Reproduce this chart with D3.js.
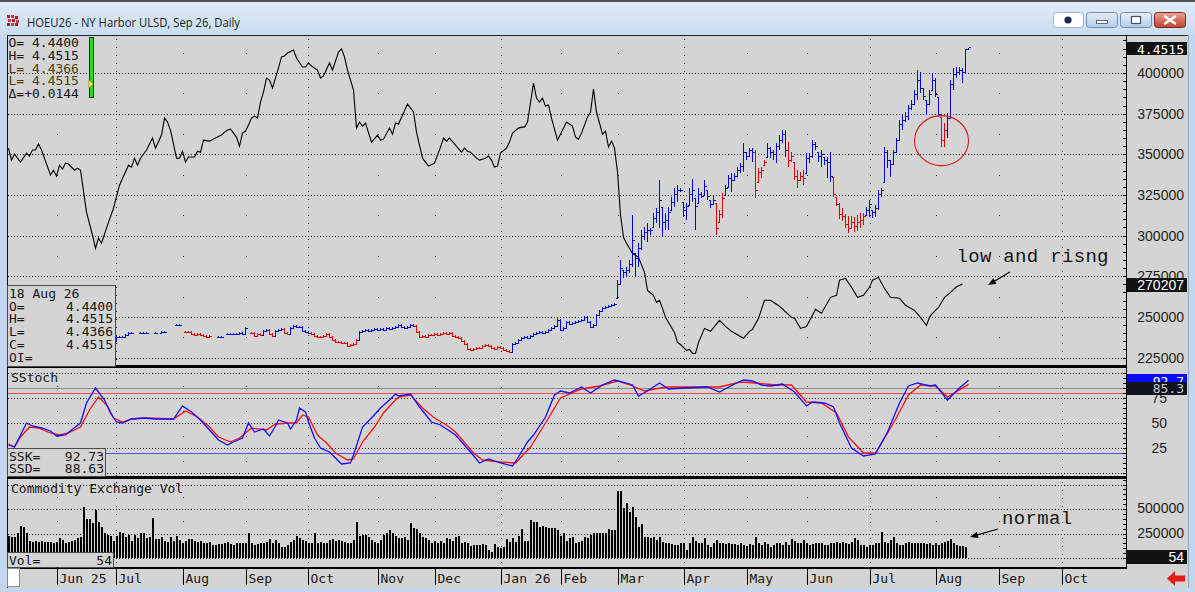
<!DOCTYPE html>
<html>
<head>
<meta charset="utf-8">
<title>HOEU26 - NY Harbor ULSD, Sep 26, Daily</title>
<script src="https://cdn.jsdelivr.net/npm/d3@7"></script>
<style>
  html, body { margin: 0; padding: 0; background: #c3d7ee; }
  svg { display: block; }
  .mono { font-family: 'DejaVu Sans Mono', monospace; font-size: 13px; fill: #161616; }
  .ax { font-family: 'Liberation Sans', Arial, sans-serif; font-size: 14px; fill: #1e1e1e; }
  .note { font-family: 'Liberation Mono', 'DejaVu Sans Mono', monospace; font-size: 19px; fill: #141414; }
</style>
</head>
<body>
<svg id="chart" width="1195" height="592"></svg>
<script>
// ---- data ----------------------------------------------------------------
// trading sessions (weekdays without exchange holidays)
var firstSession = '2025-05-08';
var lastSession = '2026-10-30';
var holidays = ['2025-05-26', '2025-06-19', '2025-07-04', '2025-09-01', '2025-11-27', '2025-12-25',
  '2026-01-01', '2026-01-19', '2026-02-16', '2026-04-03', '2026-05-25', '2026-06-19', '2026-07-03', '2026-09-07'];

// open interest, [session, contracts]
var openInterest = [[0,353800],[1,346400],[2,350100],[4,345200],[6,350700],[7,348900],[8,352600],[9,352600],[10,356300],
  [11,352600],[14,337200],[15,340200],[16,336500],[17,343300],[18,340900],[19,344600],[20,344000],[22,340200],[23,341500],
  [24,340200],[26,314400],[28,300200],[29,292200],[30,298400],[31,295300],[33,306400],[35,316800],[37,331000],[40,343300],
  [41,342100],[42,347600],[43,343300],[44,347600],[46,352600],[48,360000],[49,353800],[51,361800],[52,372300],[53,369800],
  [54,364900],[56,347600],[57,347600],[58,351900],[59,345200],[60,348300],[62,348300],[63,351900],[64,351300],[65,358700],
  [67,358100],[69,360000],[71,361800],[72,363600],[73,364900],[74,365500],[76,360600],[77,355000],[78,363000],[79,364300],
  [80,368000],[81,372300],[82,373500],[83,372300],[84,382100],[85,388300],[86,396900],[87,395700],[88,390800],[90,403100],
  [91,409900],[92,410500],[93,412300],[95,414200],[96,409200],[98,403700],[99,403700],[100,406200],[101,404300],[103,401800],
  [104,396900],[105,398200],[107,406200],[108,401800],[110,412900],[111,414800],[112,409900],[113,401800],[115,389500],
  [116,366100],[117,369800],[118,367300],[119,369200],[121,357500],[123,361800],[124,358700],[125,359300],[127,366100],
  [128,362400],[129,369200],[130,368600],[133,380900],[135,376000],[136,363600],[138,347600],[140,342700],[142,344600],
  [144,354400],[145,360000],[146,358100],[147,360000],[149,355600],[151,351300],[152,353800],[153,351900],[154,351300],
  [156,347600],[157,346400],[159,347600],[160,348900],[161,346400],[162,342100],[163,342700],[164,350700],[166,353800],
  [167,357500],[168,363000],[170,366100],[171,366700],[172,366700],[173,369800],[175,393800],[176,384600],[177,382100],
  [178,384600],[179,379700],[180,380300],[181,372300],[183,358700],[186,369800],[188,367300],[189,360600],[190,359300],
  [191,363000],[193,372900],[194,376000],[195,390100],[196,376000],[198,362400],[199,364300],[200,354400],[201,358100],
  [202,353800],[203,339000],[204,312800],[205,298900],[206,295300],[207,292200],[208,289100],[210,286600],[212,277400],
  [213,266300],[215,263200],[216,258900],[217,260200],[218,255200],[219,249700],[221,243500],[222,240400],[223,234300],
  [224,233000],[226,229400],[227,230000],[228,227500],[229,227500],[230,234300],[232,242900],[234,241100],[237,247800],
  [239,244100],[241,241100],[245,236800],[247,241100],[248,242300],[250,249100],[252,260200],[254,260200],[257,256500],
  [261,249700],[262,249100],[264,242900],[266,244100],[269,254600],[271,252200],[274,262000],[276,263200],[277,272500],
  [279,273700],[281,268200],[283,262000],[285,263200],[287,268200],[288,272500],[290,274300],[292,267500],[294,262000],
  [297,261400],[299,257100],[302,254000],[304,249700],[306,244700],[307,249700],[308,252200],[310,255800],[312,262000],
  [314,265100],[316,268500],[318,270207]];

// price bars from session barStart on, [open, high, low, close]; null = no trade
var barStart = 35;
var ohlc = [
  [2.2525,2.26,2.245,2.2525],[2.2525,2.29,2.245,2.2825],[2.2825,2.29,2.275,2.2825],[2.2825,2.29,2.275,2.2825],
  [2.2825,2.305,2.275,2.2975],[2.2975,2.32,2.29,2.3125],[2.3125,2.32,2.305,2.3125],null,null,
  [2.3125,2.32,2.305,2.3125],[2.3125,2.32,2.305,2.3125],[2.3125,2.32,2.305,2.3125],null,null,
  [2.3125,2.32,2.305,2.3125],null,[2.3125,2.3275,2.305,2.32],[2.32,2.3275,2.3125,2.32],null,null,null,
  [2.3725,2.38,2.365,2.3725],[2.3725,2.38,2.365,2.3725],null,
  [2.32,2.3275,2.3125,2.32],[2.32,2.3275,2.3125,2.32],[2.32,2.3275,2.2975,2.305],[2.305,2.3125,2.29,2.2975],
  [2.2975,2.3125,2.29,2.305],[2.305,2.3125,2.29,2.2975],[2.2975,2.305,2.2825,2.29],[2.29,2.2975,2.275,2.2825],
  [2.2825,2.2975,2.275,2.29],null,null,
  [2.2825,2.29,2.275,2.2825],[2.2825,2.29,2.275,2.2825],null,
  [2.305,2.3125,2.2975,2.305],[2.305,2.3125,2.2975,2.305],[2.305,2.3125,2.2975,2.305],[2.305,2.3125,2.2975,2.305],
  [2.305,2.32,2.2975,2.3125],[2.3125,2.32,2.2975,2.305],[2.305,2.3575,2.2975,2.35],null,
  [2.3125,2.32,2.305,2.3125],[2.3125,2.32,2.2825,2.29],[2.29,2.3125,2.2825,2.305],[2.305,2.3125,2.29,2.2975],
  [2.2975,2.335,2.29,2.3275],[2.3275,2.3425,2.32,2.335],[2.335,2.3425,2.2975,2.305],[2.305,2.3125,2.2825,2.29],
  [2.29,2.335,2.2825,2.3275],[2.3275,2.3425,2.32,2.335],[2.335,2.35,2.3275,2.3425],[2.3425,2.35,2.305,2.3125],
  [2.3125,2.32,2.2975,2.305],[2.305,2.3575,2.2975,2.35],[2.35,2.3725,2.3425,2.365],[2.365,2.3725,2.35,2.3575],
  [2.3575,2.365,2.35,2.3575],[2.3575,2.365,2.32,2.3275],[2.3275,2.335,2.3125,2.32],[2.32,2.3275,2.305,2.3125],
  [2.3125,2.32,2.2975,2.305],[2.305,2.3125,2.2825,2.29],[2.29,2.2975,2.275,2.2825],[2.2825,2.29,2.275,2.2825],
  [2.2825,2.2975,2.275,2.29],[2.29,2.3125,2.2825,2.305],[2.305,2.3125,2.275,2.2825],[2.2825,2.29,2.2525,2.26],
  [2.26,2.2675,2.2375,2.245],[2.245,2.2525,2.2375,2.245],[2.245,2.2525,2.23,2.2375],[2.2375,2.245,2.23,2.2375],
  [2.2375,2.245,2.2075,2.215],[2.215,2.23,2.2075,2.2225],[2.2225,2.2375,2.215,2.23],[2.23,2.2675,2.2225,2.26],
  [2.26,2.3275,2.2525,2.32],[2.32,2.335,2.3125,2.3275],[2.3275,2.3425,2.32,2.335],[2.335,2.3425,2.32,2.3275],
  [2.3275,2.3425,2.32,2.335],[2.335,2.35,2.3275,2.3425],[2.3425,2.35,2.3275,2.335],[2.335,2.35,2.3275,2.3425],
  [2.3425,2.35,2.3275,2.335],[2.335,2.3575,2.3275,2.35],[2.35,2.3575,2.335,2.3425],[2.3425,2.3575,2.335,2.35],
  [2.35,2.365,2.3425,2.3575],[2.3575,2.38,2.35,2.3725],[2.3725,2.38,2.35,2.3575],[2.3575,2.365,2.3425,2.35],
  [2.35,2.365,2.3425,2.3575],[2.3575,2.38,2.35,2.3725],[2.3725,2.38,2.3575,2.365],[2.365,2.3725,2.3125,2.32],
  [2.32,2.3275,2.275,2.2825],[2.2825,2.2975,2.275,2.29],[2.29,2.2975,2.275,2.2825],[2.2825,2.305,2.275,2.2975],
  [2.2975,2.305,2.29,2.2975],[2.2975,2.3125,2.29,2.305],[2.305,2.3125,2.29,2.2975],[2.2975,2.3125,2.29,2.305],
  [2.305,2.32,2.2975,2.3125],[2.3125,2.32,2.2975,2.305],[2.305,2.32,2.2975,2.3125],[2.3125,2.32,2.2825,2.29],
  [2.29,2.2975,2.275,2.2825],[2.2825,2.29,2.2675,2.275],[2.275,2.2825,2.245,2.2525],[2.2525,2.26,2.2225,2.23],
  [2.23,2.2375,2.185,2.1925],[2.1925,2.2,2.1775,2.185],[2.185,2.2,2.1775,2.1925],[2.1925,2.2075,2.185,2.2],
  [2.2,2.2075,2.1925,2.2],[2.2,2.2225,2.1925,2.215],[2.215,2.23,2.2075,2.2225],[2.2225,2.23,2.2075,2.215],
  [2.215,2.2225,2.1925,2.2],[2.2,2.2075,2.185,2.1925],[2.1925,2.215,2.185,2.2075],[2.2075,2.215,2.1925,2.2],
  [2.2,2.2075,2.1775,2.185],[2.185,2.1925,2.17,2.1775],[2.1775,2.185,2.1625,2.17],[2.17,2.2375,2.1625,2.23],
  [2.23,2.245,2.2225,2.2375],[2.2375,2.2675,2.23,2.26],[2.26,2.2825,2.2525,2.275],[2.275,2.29,2.2675,2.2825],
  [2.2825,2.29,2.2675,2.275],[2.275,2.2975,2.2675,2.29],[2.29,2.3125,2.2825,2.305],[2.305,2.32,2.2975,2.3125],
  [2.3125,2.3275,2.305,2.32],[2.32,2.3275,2.305,2.3125],[2.3125,2.3275,2.305,2.32],[2.32,2.3425,2.3125,2.335],
  [2.335,2.3575,2.3275,2.35],[2.35,2.3725,2.3425,2.365],[2.365,2.425,2.3575,2.41],[2.41,2.4175,2.3275,2.335],
  [2.335,2.3575,2.3275,2.35],[2.35,2.4025,2.3425,2.395],[2.395,2.4025,2.3725,2.38],[2.38,2.395,2.3725,2.3875],
  [2.3875,2.4025,2.38,2.395],[2.395,2.41,2.3875,2.4025],[2.4025,2.4175,2.395,2.41],[2.41,2.44,2.4025,2.4325],
  [2.4325,2.44,2.3875,2.395],[2.395,2.4025,2.35,2.3575],[2.3575,2.38,2.35,2.3725],[2.3725,2.455,2.365,2.4475],
  [2.4475,2.485,2.44,2.4775],[2.4775,2.5075,2.47,2.5],[2.5,2.515,2.4925,2.5075],[2.5075,2.5225,2.5,2.515],
  [2.515,2.53,2.5075,2.5225],[2.5225,2.5375,2.515,2.53],
  [2.575,2.71,2.575,2.68],[2.68,2.86,2.6725,2.8],[2.785,2.785,2.725,2.77],[2.77,2.8075,2.7325,2.785],
  [2.785,2.86,2.7625,2.83],[2.83,3.1975,2.8075,3.01],[2.9125,2.9125,2.7325,2.875],[2.875,2.9875,2.8075,2.95],
  [2.95,3.085,2.935,3.04],[3.04,3.1075,3.01,3.07],[3.07,3.1375,2.995,3.085],[3.085,3.1,3.0475,3.085],
  [3.1075,3.2125,3.1075,3.175],[3.175,3.25,3.1375,3.22],[3.22,3.46,3.1,3.31],[3.2575,3.2575,3.0325,3.145],
  [3.145,3.2125,3.085,3.16],[3.16,3.2575,3.085,3.22],[3.235,3.3325,3.235,3.295],[3.295,3.4,3.2575,3.355],
  [3.355,3.4225,3.295,3.385],[3.385,3.4,3.37,3.385],[3.295,3.295,3.1825,3.235],[3.235,3.2875,3.16,3.265],
  [3.2725,3.4,3.2725,3.355],[3.355,3.4675,3.295,3.385],[3.325,3.325,3.085,3.265],[3.2875,3.4,3.2875,3.355],
  [3.355,3.37,3.325,3.34],[3.3475,3.46,3.3475,3.415],[3.385,3.385,3.31,3.34],[3.31,3.31,3.25,3.28],
  [3.28,3.3475,3.2725,3.31],[3.2875,3.2875,3.0475,3.1],[3.145,3.235,3.145,3.205],[3.205,3.3625,3.175,3.325],
  [3.3475,3.4225,3.3475,3.4],[3.4075,3.4975,3.4075,3.475],[3.475,3.5125,3.37,3.46],[3.46,3.5125,3.46,3.49],
  [3.49,3.5575,3.4825,3.535],[3.535,3.5875,3.5125,3.565],[3.565,3.7375,3.52,3.67],[3.67,3.67,3.61,3.64],
  [3.64,3.7,3.6325,3.685],[3.685,3.7,3.595,3.67],[3.67,3.685,3.325,3.385],[3.445,3.55,3.445,3.52],
  [3.52,3.5575,3.475,3.535],[3.5725,3.61,3.5725,3.595],[3.6325,3.7375,3.6325,3.7],[3.7,3.7075,3.625,3.67],
  [3.67,3.685,3.61,3.655],[3.655,3.7375,3.5875,3.715],[3.715,3.7975,3.685,3.76],[3.76,3.835,3.7375,3.805],
  [3.805,3.835,3.6325,3.685],[3.685,3.745,3.5575,3.61],[3.61,3.67,3.595,3.64],[3.595,3.595,3.46,3.49],
  [3.49,3.535,3.4,3.46],[3.46,3.52,3.46,3.49],[3.49,3.535,3.4225,3.475],[3.5125,3.6625,3.5125,3.625],
  [3.625,3.6625,3.5875,3.64],[3.64,3.76,3.625,3.73],[3.73,3.745,3.685,3.715],[3.67,3.67,3.595,3.64],
  [3.64,3.685,3.5575,3.655],[3.6325,3.6325,3.5725,3.61],[3.61,3.6325,3.475,3.595],[3.595,3.67,3.445,3.49],
  [3.4825,3.4825,3.3325,3.355],[3.3325,3.3325,3.265,3.28],[3.28,3.2875,3.1675,3.205],[3.205,3.25,3.1525,3.19],
  [3.19,3.205,3.1,3.13],[3.13,3.19,3.0625,3.1],[3.1,3.19,3.0925,3.145],[3.145,3.1825,3.07,3.115],
  [3.115,3.1975,3.0775,3.145],[3.145,3.2125,3.1,3.16],[3.16,3.2125,3.1225,3.19],[3.1975,3.2575,3.1975,3.235],
  [3.235,3.31,3.1825,3.28],[3.235,3.235,3.175,3.22],[3.22,3.2725,3.1825,3.25],[3.25,3.385,3.235,3.355],
  [3.355,3.4,3.3325,3.385],[3.445,3.7075,3.445,3.67],[3.67,3.685,3.55,3.61],[3.61,3.61,3.4825,3.58],
  [3.58,3.685,3.5725,3.67],[3.67,3.775,3.67,3.76],[3.76,3.91,3.76,3.88],[3.88,3.9475,3.835,3.91],
  [3.91,3.97,3.895,3.94],[3.94,4.0225,3.91,4.0],[4.0,4.06,3.985,4.03],[4.03,4.135,4.0225,4.105],
  [4.105,4.285,4.06,4.21],[4.21,4.27,4.1125,4.15],[4.15,4.15,4.06,4.09],[4.06,4.06,3.9475,4.03],
  [4.03,4.135,4.0225,4.105],[4.135,4.2625,4.135,4.21],[4.21,4.225,4.0825,4.105],[4.0825,4.0825,3.9325,3.955],
  [3.9325,3.9325,3.7075,3.76],[3.76,3.8875,3.7075,3.835],[3.835,3.9625,3.775,3.925],[3.925,4.21,3.925,4.18],
  [4.18,4.3,4.135,4.255],[4.255,4.3075,4.225,4.27],[4.27,4.3075,4.2475,4.285],[4.285,4.3,4.1875,4.27],
  [4.27,4.44,4.2625,4.4371],[4.44,4.4515,4.4366,4.4515]
];

// bar colouring runs, [from session, to session, trend]
var trendRuns = [[35,35,'dn'],[36,57,'up'],[59,67,'dn'],[70,79,'up'],[81,84,'dn'],[85,86,'up'],[87,88,'dn'],
  [89,91,'up'],[92,93,'dn'],[94,100,'up'],[101,116,'dn'],[117,135,'up'],[136,167,'dn'],[168,235,'up'],
  [236,238,'dn'],[239,248,'up'],[249,252,'dn'],[253,259,'up'],[260,265,'dn'],[266,274,'up'],[275,285,'dn'],
  [286,310,'up'],[311,312,'dn'],[313,320,'up']];

// slow stochastic, [session, value]
var ssk = [[0,28],[2,26],[4,38],[6,50],[8,47],[11,45],[14,42],[16,37],[19,38],[21,43],[24,50],[26,70],[29,85],
  [32,73],[34,60],[36,51],[38,50],[41,54],[45,55],[49,54],[55,54],[58,67],[61,61],[64,53],[67,43],[70,33],[73,28],
  [75,31],[78,35],[80,50],[82,41],[85,44],[87,37],[89,47],[90,53],[93,50],[94,44],[96,53],[97,65],[99,61],[100,51],
  [102,35],[104,25],[107,21],[109,15],[111,9],[114,10],[115,18],[118,46],[121,55],[124,65],[127,73],[129,79],[130,77],
  [134,79],[137,66],[141,51],[144,48],[149,38],[154,21],[157,10],[160,14],[164,10],[168,7],[170,16],[173,31],[175,38],
  [179,56],[182,78],[184,82],[187,80],[191,86],[194,80],[198,88],[202,93],[206,90],[208,88],[210,77],[213,82],[217,90],
  [220,84],[225,85],[233,86],[237,81],[242,89],[245,93],[248,92],[251,88],[254,87],[258,89],[262,81],[266,67],[268,71],
  [272,70],[275,66],[277,50],[281,25],[285,17],[289,19],[293,41],[297,70],[300,87],[303,90],[307,87],[309,88],[313,73],
  [317,85],[320,92.73]];
var ssd = [[0,29],[2,26],[4,36],[7,46],[10,45],[14,40],[17,38],[20,40],[24,46],[27,63],[30,76],[33,67],[35,55],
  [38,51],[41,54],[46,55],[55,54],[59,62],[63,56],[67,46],[70,36],[74,31],[77,35],[81,45],[86,43],[89,49],[94,50],
  [96,50],[98,58],[100,56],[103,38],[106,30],[109,20],[113,13],[115,14],[118,31],[122,46],[125,60],[128,70],[130,76],
  [134,78],[138,65],[142,55],[146,48],[149,41],[155,20],[158,13],[164,11],[169,10],[174,26],[179,50],[184,75],[191,84],
  [197,87],[203,92],[208,87],[212,82],[219,86],[228,86],[237,86],[244,91],[249,90],[256,88],[261,88],[266,71],[271,70],
  [276,60],[280,36],[285,20],[289,20],[295,50],[300,78],[304,88],[309,87],[313,76],[320,88.63]];
var stochLevels = { over: 80, under: 20, marker: 85.3 };

// exchange volume per session from session 0
var volume = [
  224000,217000,217000,252000,326000,319000,252000,176000,166000,176000,
  166000,176000,166000,166000,166000,156000,166000,201000,184000,150000,
  166000,176000,184000,201000,217000,517000,395000,395000,354000,490000,
  370000,319000,252000,235000,224000,176000,224000,268000,252000,217000,
  235000,176000,235000,201000,252000,252000,201000,217000,411000,191000,
  191000,217000,176000,166000,217000,176000,224000,184000,156000,176000,
  191000,191000,176000,166000,176000,156000,150000,166000,133000,133000,
  143000,143000,156000,166000,143000,133000,150000,150000,150000,150000,
  258000,150000,133000,143000,150000,156000,166000,191000,156000,184000,
  150000,115000,115000,133000,166000,184000,224000,201000,184000,176000,
  150000,156000,252000,156000,166000,156000,150000,184000,191000,176000,
  184000,176000,166000,150000,150000,184000,370000,224000,235000,235000,
  217000,184000,166000,150000,184000,235000,258000,286000,252000,224000,
  201000,201000,217000,184000,354000,303000,293000,258000,211000,201000,
  184000,150000,176000,156000,176000,150000,201000,191000,176000,217000,
  224000,150000,166000,156000,122000,133000,133000,133000,143000,133000,
  82000,64000,143000,115000,99000,115000,191000,166000,201000,166000,
  224000,293000,176000,176000,388000,370000,370000,313000,326000,313000,
  303000,303000,303000,286000,224000,258000,176000,201000,211000,156000,
  166000,176000,217000,201000,235000,252000,258000,258000,258000,258000,
  293000,286000,286000,686000,686000,507000,558000,472000,523000,421000,
  319000,347000,211000,211000,201000,211000,184000,217000,166000,150000,
  150000,143000,133000,133000,150000,150000,82000,150000,217000,176000,
  150000,156000,201000,133000,115000,150000,184000,156000,150000,143000,
  150000,143000,143000,133000,150000,133000,122000,143000,133000,217000,
  150000,133000,166000,143000,115000,133000,150000,150000,133000,166000,
  133000,191000,176000,156000,150000,184000,150000,133000,143000,156000,
  150000,150000,133000,133000,156000,150000,166000,156000,166000,150000,
  143000,166000,201000,184000,133000,133000,115000,133000,133000,150000,
  156000,268000,166000,150000,184000,211000,156000,133000,133000,150000,
  166000,150000,156000,150000,150000,156000,143000,150000,133000,150000,
  133000,156000,166000,176000,191000,150000,133000,122000,122000,115000,
  54
];

// axis ticks
var oiTicks = [225000, 250000, 275000, 300000, 325000, 350000, 375000, 400000];
var stochGrid = [0, 25, 50, 75, 100];
var stochTicks = [25, 50, 75];
var volGrid = [0, 250000, 500000, 750000];
var volTicks = [250000, 500000];

// ---- layout --------------------------------------------------------------
var plotL = 7, plotR = 1126, axisR = 1188;
var price = { top: 36, bottom: 365 };
var stoch = { top: 368, bottom: 476 };
var vol = { top: 479, bottom: 566 };
var dateAxis = { top: 567, bottom: 587 };

var parse = d3.utcParse('%Y-%m-%d'), iso = d3.utcFormat('%Y-%m-%d');
var sessions = d3.utcDays(parse(firstSession), d3.utcDay.offset(parse(lastSession), 1))
  .filter(function(d) {
    var w = d.getUTCDay();
    return w !== 0 && w !== 6 && holidays.indexOf(iso(d)) < 0;
  });

var x = d3.scaleLinear().domain([0, sessions.length - 1]).range([8.5, 8.5 + 3 * (sessions.length - 1)]);
var yOI = d3.scaleLinear().domain([225000, 400000]).range([357.5, 73]);
var yPx = d3.scaleLinear().domain([2.185, 4.435]).range([350, 50]);
var yStoch = d3.scaleLinear().domain([0, 100]).range([473, 373]);
var yVol = d3.scaleLinear().domain([0, 500000]).range([558, 509]);

var monthStarts = [];
sessions.forEach(function(d, i) {
  if (i > 0 && d.getUTCMonth() !== sessions[i - 1].getUTCMonth()) {
    monthStarts.push({ s: i, date: d, quarter: d.getUTCMonth() % 3 === 0 });
  }
});

var svg = d3.select('#chart');
var defs = svg.append('defs');

function gradient(id, top, bottom) {
  var g = defs.append('linearGradient').attr('id', id).attr('x1', 0).attr('y1', 0).attr('x2', 0).attr('y2', 1);
  g.append('stop').attr('offset', '0%').attr('stop-color', top);
  g.append('stop').attr('offset', '100%').attr('stop-color', bottom);
}
gradient('titleGrad', '#e3edf9', '#c8dbf0');
gradient('btnGrad', '#e6eef8', '#b4cbe6');
gradient('closeGrad', '#eaa595', '#c4402a');

function clip(id, r) {
  defs.append('clipPath').attr('id', id).append('rect')
    .attr('x', plotL + 1).attr('y', r.top).attr('width', plotR - plotL - 1).attr('height', r.bottom - r.top);
}
clip('clipPrice', price);
clip('clipStoch', stoch);
clip('clipVol', vol);

// ---- window chrome -------------------------------------------------------
svg.append('rect').attr('width', 1195).attr('height', 592).attr('fill', '#c3d7ee');
svg.append('rect').attr('width', 1195).attr('height', 35).attr('fill', 'url(#titleGrad)');
svg.append('rect').attr('width', 1195).attr('height', 2).attr('fill', '#505050');
svg.append('rect').attr('x', 1188).attr('y', 35).attr('width', 1).attr('height', 553).attr('fill', '#8fa9c6');

var icon = svg.append('g').attr('transform', 'translate(7,15)');
[[0,0],[4,0],[8,1],[1,4],[5,4],[9,5],[0,8],[4,8],[8,8]].forEach(function(p, i) {
  icon.append('rect').attr('x', p[0]).attr('y', p[1]).attr('width', 3).attr('height', 3)
    .attr('fill', i % 2 ? '#d23a4a' : '#a8202e');
});
svg.append('text').attr('x', 27).attr('y', 26.5)
  .attr('textLength', 213).attr('lengthAdjust', 'spacingAndGlyphs')
  .style('font-family', "'Open Sans', 'Noto Sans', sans-serif").style('font-size', '13px').style('fill', '#1b1b1b')
  .text('HOEU26 - NY Harbor ULSD, Sep 26, Daily');

var btn = svg.append('g');
btn.append('rect').attr('x', 1053.5).attr('y', 12.5).attr('width', 30).attr('height', 15).attr('rx', 3)
  .attr('fill', '#ffffff').attr('stroke', '#9db4d0');
btn.append('circle').attr('cx', 1068).attr('cy', 20).attr('r', 3.6).attr('fill', '#23244f');
btn.append('rect').attr('x', 1086.5).attr('y', 12.5).attr('width', 31).attr('height', 15).attr('rx', 3)
  .attr('fill', 'url(#btnGrad)').attr('stroke', '#6f8fb5');
btn.append('rect').attr('x', 1096.5).attr('y', 20.5).attr('width', 11).attr('height', 3)
  .attr('fill', '#ffffff').attr('stroke', '#3c4f6b').attr('stroke-width', 0.8);
btn.append('rect').attr('x', 1120.5).attr('y', 12.5).attr('width', 31).attr('height', 15).attr('rx', 3)
  .attr('fill', 'url(#btnGrad)').attr('stroke', '#6f8fb5');
btn.append('rect').attr('x', 1131.5).attr('y', 16.5).attr('width', 9).attr('height', 7)
  .attr('fill', '#ffffff').attr('stroke', '#3c4f6b').attr('stroke-width', 1.2);
btn.append('rect').attr('x', 1154.5).attr('y', 12.5).attr('width', 31).attr('height', 15).attr('rx', 3)
  .attr('fill', 'url(#closeGrad)').attr('stroke', '#7d2b20');
btn.append('path').attr('d', 'M1165,16.5L1175,23.5M1175,16.5L1165,23.5')
  .attr('stroke', '#ffffff').attr('stroke-width', 2.4).attr('stroke-linecap', 'round');

// chart background
svg.append('rect').attr('x', plotL).attr('y', 35).attr('width', axisR - plotL).attr('height', 553).attr('fill', '#d4d4d4');

// ---- grid ----------------------------------------------------------------
var grid = svg.append('g').attr('shape-rendering', 'crispEdges');

function hDots(y) {
  grid.append('line').attr('x1', plotL + 1).attr('x2', plotR).attr('y1', Math.round(y) + 0.5).attr('y2', Math.round(y) + 0.5)
    .attr('stroke', '#000').attr('stroke-dasharray', '1,2');
}
oiTicks.forEach(function(v) { hDots(yOI(v)); });
stochGrid.forEach(function(v) { hDots(yStoch(v)); });
volGrid.forEach(function(v) { if (yVol(v) > vol.top) hDots(yVol(v)); });

monthStarts.filter(function(m) { return m.quarter; }).forEach(function(m) {
  [price, stoch, vol].forEach(function(r) {
    grid.append('line').attr('x1', Math.round(x(m.s)) + 0.5).attr('x2', Math.round(x(m.s)) + 0.5)
      .attr('y1', r.top + 3).attr('y2', r.bottom)
      .attr('stroke', '#000').attr('stroke-dasharray', '1,7');
  });
});

var midDots = [];
oiTicks.forEach(function(v) { midDots.push(yOI(v + 12500)); });
stochGrid.slice(0, -1).forEach(function(v) { midDots.push(yStoch(v + 12.5)); });
volGrid.forEach(function(v) { if (yVol(v + 125000) > vol.top) midDots.push(yVol(v + 125000)); });
monthStarts.filter(function(m) { return !m.quarter; }).forEach(function(m) {
  midDots.forEach(function(y) {
    grid.append('rect').attr('x', Math.round(x(m.s))).attr('y', Math.round(y)).attr('width', 1).attr('height', 1).attr('fill', '#000');
  });
});

// ---- price panel ---------------------------------------------------------
var gPrice = svg.append('g').attr('clip-path', 'url(#clipPrice)');

gPrice.append('path')
  .datum(openInterest)
  .attr('fill', 'none')
  .attr('stroke', '#000')
  .attr('stroke-width', 1.1)
  .attr('d', d3.line().x(function(d) { return x(d[0]); }).y(function(d) { return yOI(d[1]); }));

var bars = ohlc.map(function(d, i) {
  return d && { s: barStart + i, o: d[0], h: d[1], l: d[2], c: d[3] };
}).filter(Boolean);

function trendOf(s) {
  var run = trendRuns.find(function(r) { return s >= r[0] && s <= r[1]; });
  return run ? run[2] : 'up';
}

gPrice.append('g').attr('shape-rendering', 'crispEdges')
  .selectAll('path')
  .data(bars)
  .enter()
  .append('path')
  .attr('fill', 'none')
  .attr('stroke', function(d) { return trendOf(d.s) === 'up' ? '#0000e0' : '#e00000'; })
  .attr('d', function(d) {
    var cx = x(d.s), hi = Math.min(yPx(d.h), yPx(d.l) - 1.5);
    return 'M' + cx + ',' + hi + 'V' + yPx(d.l) +
      'M' + (cx - 1.5) + ',' + yPx(d.o) + 'H' + cx +
      'M' + cx + ',' + yPx(d.c) + 'H' + (cx + 2);
  });

// ---- stochastic panel ----------------------------------------------------
var gStoch = svg.append('g').attr('clip-path', 'url(#clipStoch)');
[[stochLevels.marker, '#8a8a8a'], [stochLevels.over, '#f05050'], [stochLevels.under, '#5050f0']].forEach(function(l) {
  gStoch.append('line').attr('x1', plotL + 1).attr('x2', plotR)
    .attr('y1', Math.round(yStoch(l[0])) + 0.5).attr('y2', Math.round(yStoch(l[0])) + 0.5)
    .attr('stroke', l[1]).attr('shape-rendering', 'crispEdges');
});
var stochLine = d3.line().x(function(d) { return x(d[0]); }).y(function(d) { return yStoch(d[1]); });
gStoch.append('path').datum(ssd).attr('fill', 'none').attr('stroke', '#ff1010').attr('stroke-width', 1.3).attr('d', stochLine);
gStoch.append('path').datum(ssk).attr('fill', 'none').attr('stroke', '#1010ff').attr('stroke-width', 1.3).attr('d', stochLine);

// ---- volume panel --------------------------------------------------------
svg.append('g').attr('clip-path', 'url(#clipVol)').attr('shape-rendering', 'crispEdges')
  .selectAll('rect')
  .data(volume)
  .enter()
  .append('rect')
  .attr('x', function(d, i) { return x(i) - 0.5; })
  .attr('width', 2)
  .attr('y', function(d) { return yVol(d); })
  .attr('height', function(d) { return yVol(0) - yVol(d); })
  .attr('fill', '#000');

// ---- frame, separators, axis line ----------------------------------------
var frame = svg.append('g').attr('shape-rendering', 'crispEdges');
frame.append('rect').attr('x', plotL).attr('y', 35).attr('width', axisR - plotL).attr('height', 1).attr('fill', '#222');
frame.append('rect').attr('x', plotL).attr('y', 35).attr('width', 1).attr('height', 553).attr('fill', '#111');
frame.append('rect').attr('x', plotL).attr('y', 365).attr('width', plotR - plotL).attr('height', 2.5).attr('fill', '#000');
frame.append('rect').attr('x', plotL).attr('y', 476).attr('width', plotR - plotL).attr('height', 2.5).attr('fill', '#000');
frame.append('rect').attr('x', plotL).attr('y', dateAxis.top).attr('width', plotR - plotL + 1).attr('height', 1.5).attr('fill', '#000');
frame.append('rect').attr('x', plotR).attr('y', 35).attr('width', 1).attr('height', dateAxis.top - 35).attr('fill', '#000');

function minorTicks(scale, from, to, step, r) {
  d3.range(from, to + step / 2, step).forEach(function(v) {
    var y = Math.round(scale(v));
    if (y > r.top && y < r.bottom) {
      frame.append('rect').attr('x', plotR - 3).attr('y', y).attr('width', 3).attr('height', 1).attr('fill', '#000');
    }
  });
}
minorTicks(yOI, 200000, 420000, 5000, price);
minorTicks(yStoch, 0, 100, 5, stoch);
minorTicks(yVol, 0, 800000, 50000, vol);

// ---- right axis labels ---------------------------------------------------
var axisG = svg.append('g');
oiTicks.forEach(function(v) {
  axisG.append('text').attr('class', 'ax').attr('x', 1184).attr('y', yOI(v) + 5).attr('text-anchor', 'end').text(v);
});
stochTicks.forEach(function(v) {
  axisG.append('text').attr('class', 'ax').attr('x', 1167).attr('y', yStoch(v) + 5).attr('text-anchor', 'end').text(v);
});
volTicks.forEach(function(v) {
  axisG.append('text').attr('class', 'ax').attr('x', 1184).attr('y', yVol(v) + 4).attr('text-anchor', 'end').text(v);
});

function lastLabel(y, h, text, fill, color, mono) {
  axisG.append('rect').attr('x', plotR + 1).attr('y', y - h / 2).attr('width', axisR - plotR - 2).attr('height', h)
    .attr('fill', fill).attr('shape-rendering', 'crispEdges');
  axisG.append('text').attr('class', mono ? 'mono' : 'ax').attr('x', 1184).attr('y', y + 5)
    .attr('text-anchor', 'end').style('fill', color).text(text);
}
var lastBar = bars[bars.length - 1], prevBar = bars[bars.length - 2];
var lastOI = openInterest[openInterest.length - 1][1];
var lastK = ssk[ssk.length - 1][1], lastD = ssd[ssd.length - 1][1];
var lastVol = volume[volume.length - 1];
var f4 = d3.format('.4f');

lastLabel(48.5, 13, f4(lastBar.c), '#111', '#fff', true);
lastLabel(285, 14, lastOI, '#111', '#fff', false);
lastLabel(yStoch(lastK) + 1, 14, d3.format('.1f')(lastK), '#0a0aff', '#fff', true);
lastLabel(yStoch(stochLevels.marker) + 0.5, 13, stochLevels.marker.toFixed(1), '#11131c', '#c8c8c8', true);
lastLabel(556.5, 14, lastVol, '#111', '#fff', false);

// ---- info boxes ----------------------------------------------------------
var info = svg.append('g');
var topRows = [
  ['O= ' + f4(lastBar.o), '#161616'],
  ['H= ' + f4(lastBar.h), '#161616'],
  ['L= ' + f4(lastBar.l), '#4f4108'],
  ['L= ' + f4(lastBar.c), '#4f4108'],
  ['\u0394=+' + f4(lastBar.c - prevBar.c), '#161616']
];
topRows.forEach(function(r, i) {
  info.append('text').attr('class', 'mono').attr('x', 8.5).attr('y', 47 + i * 12.75).style('fill', r[1]).text(r[0]);
});
info.append('rect').attr('x', 89.5).attr('y', 37.5).attr('width', 4).attr('height', 60)
  .attr('fill', '#1fe01f').attr('stroke', '#0a3a0a').attr('shape-rendering', 'crispEdges');
info.append('path').attr('d', 'M89,80L89,88L93.5,84Z').attr('fill', '#ffff30').attr('stroke', '#7a6a00').attr('stroke-width', 0.6);

function box(x0, y0, w, h, rows, valueX, lineH, firstBase) {
  info.append('rect').attr('x', x0 + 0.5).attr('y', y0 + 0.5).attr('width', w).attr('height', h)
    .attr('fill', '#d4d4d4').attr('stroke', '#4a4a4a').attr('shape-rendering', 'crispEdges');
  rows.forEach(function(r, i) {
    var yy = firstBase + i * lineH;
    info.append('text').attr('class', 'mono').attr('x', x0 + 2).attr('y', yy).text(r[0]);
    if (r[1] !== '') {
      info.append('text').attr('class', 'mono').attr('x', valueX).attr('y', yy).attr('text-anchor', 'end').text(r[1]);
    }
  });
}
box(plotL, 285, 108, 81, [
  [d3.utcFormat('%d %b %y')(sessions[lastBar.s]).replace(/ /g, ' '), ''],
  ['O=', f4(lastBar.o)], ['H=', f4(lastBar.h)], ['L=', f4(lastBar.l)], ['C=', f4(lastBar.c)], ['OI=', '']
], 113, 12.7, 298);
box(plotL, 448, 98, 28, [['SSK=', lastK.toFixed(2)], ['SSD=', lastD.toFixed(2)]], 104, 12.8, 460.5);
box(plotL, 552, 106, 15, [['Vol=', String(lastVol)]], 112, 12, 565);

info.append('text').attr('class', 'mono').attr('x', 11).attr('y', 381.5).text('SStoch');
info.append('text').attr('class', 'mono').attr('x', 11).attr('y', 493).text('Commodity Exchange Vol');

// ---- date axis -----------------------------------------------------------
var dateG = svg.append('g');
var monFmt = d3.utcFormat('%b'), yrFmt = d3.utcFormat('%y');
monthStarts.forEach(function(m, i) {
  var tx = Math.round(x(m.s)) + 0.5;
  if (tx > plotR) return;
  dateG.append('line').attr('x1', tx).attr('x2', tx).attr('y1', dateAxis.top).attr('y2', dateAxis.bottom - 2)
    .attr('stroke', '#000').attr('shape-rendering', 'crispEdges');
  var label = monFmt(m.date) + ((i === 0 || m.date.getUTCMonth() === 0) ? ' ' + yrFmt(m.date) : '');
  dateG.append('text').attr('class', 'mono').attr('x', tx + 2).attr('y', 583).text(label);
});
dateG.append('rect').attr('x', plotL + 0.5).attr('y', 568.5).attr('width', 12).attr('height', 18)
  .attr('fill', '#fff').attr('stroke', '#8c8c8c');
dateG.append('path').attr('d', 'M1167,578.5L1175,571L1175,575.5L1185,575.5L1185,581.5L1175,581.5L1175,586Z')
  .attr('fill', '#e41c1c');

// ---- annotations ---------------------------------------------------------
var notes = svg.append('g');
function arrow(x1, y1, x2, y2) {
  var a = Math.atan2(y2 - y1, x2 - x1), len = 8, w = 3.2;
  notes.append('line').attr('x1', x1).attr('y1', y1).attr('x2', x2 - 5 * Math.cos(a)).attr('y2', y2 - 5 * Math.sin(a))
    .attr('stroke', '#000').attr('stroke-width', 1.2);
  notes.append('path').attr('fill', '#000').attr('d',
    'M' + x2 + ',' + y2 +
    'L' + (x2 - len * Math.cos(a) + w * Math.sin(a)) + ',' + (y2 - len * Math.sin(a) - w * Math.cos(a)) +
    'L' + (x2 - len * Math.cos(a) - w * Math.sin(a)) + ',' + (y2 - len * Math.sin(a) + w * Math.cos(a)) + 'Z');
}
notes.append('text').attr('class', 'note').attr('x', x(316)).attr('y', yOI(284000))
  .attr('textLength', 152).attr('lengthAdjust', 'spacing').text('low and risng');
arrow(x(333.8), yOI(277600), x(326.5), yOI(269600));
notes.append('text').attr('class', 'note').attr('x', x(331.2)).attr('y', yVol(347000))
  .attr('textLength', 70).attr('lengthAdjust', 'spacing').text('normal');
arrow(x(329.8), yVol(296000), x(320.5), yVol(214000));
notes.append('ellipse').attr('cx', x(311)).attr('cy', yPx(3.755)).attr('rx', 27).attr('ry', 25)
  .attr('fill', 'none').attr('stroke', '#e01818').attr('stroke-width', 1.1);
</script>
</body>
</html>
